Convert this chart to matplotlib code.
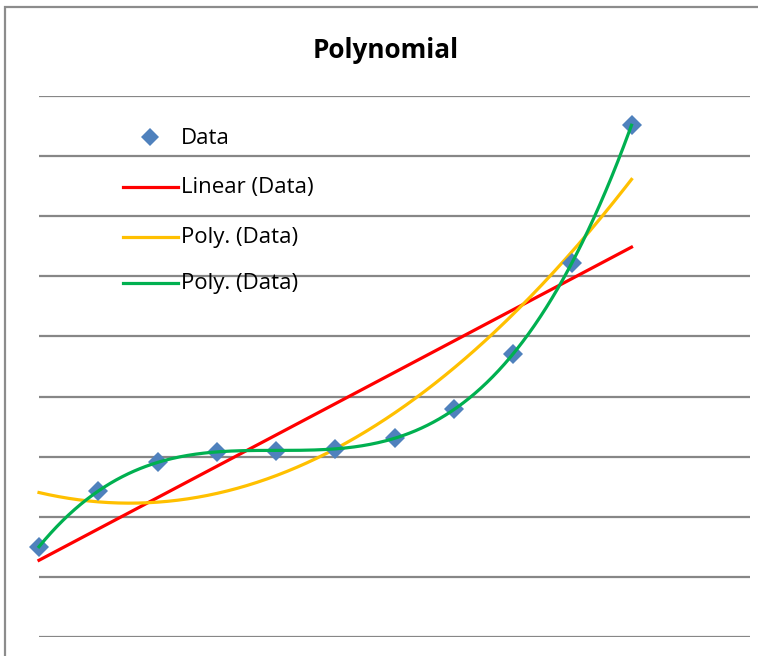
import numpy as np
import matplotlib
matplotlib.use("Agg")
import matplotlib.pyplot as plt
from matplotlib.patches import Rectangle
from matplotlib.lines import Line2D

x_vals = [1, 2, 3, 4, 5, 6, 7, 8, 9, 10, 11]
y_vals = [1.50, 2.43, 2.91, 3.08, 3.09, 3.13, 3.31, 3.79, 4.71, 6.22, 8.52]
title = "Polynomial"
labels = ["Data", "Linear (Data)", "Poly. (Data)", "Poly. (Data)"]

W, H = 758, 656
fig = plt.figure(figsize=(W / 100, H / 100), dpi=100)
fig.patch.set_facecolor("white")

def fx(px):
    return px / W

def fy(py):
    return 1 - py / H

# chart border (left/top visible, right and bottom off-canvas)
fig.add_artist(Rectangle((fx(5), -0.05), 2.0, fy(7) + 0.05,
                         transform=fig.transFigure, fill=False,
                         edgecolor="#8c8c8c", linewidth=1.6))

left, right, top, bottom = 39, 750, 96, 637
ax = fig.add_axes([fx(left), fy(bottom), (right - left) / W, (bottom - top) / H])
ax.set_xlim(1, 13)
ax.set_ylim(0, 9)
ax.set_yticks(np.arange(0, 10, 1))
ax.set_xticks([])
ax.tick_params(left=False, labelleft=False, bottom=False, labelbottom=False)
for s in ax.spines.values():
    s.set_visible(False)
ax.grid(axis="y", color="#878787", linewidth=1.6)
ax.set_axisbelow(True)
ax.patch.set_alpha(0)

x = np.array(x_vals, dtype=float)
y = np.array(y_vals, dtype=float)
xs = np.linspace(x.min(), x.max(), 300)

p1 = np.polyfit(x, y, 1)
p2 = np.polyfit(x, y, 2)
p3 = np.polyfit(x, y, 3)

ax.plot(xs, np.polyval(p1, xs), color="#FF0000", linewidth=2.3, clip_on=False, zorder=3)
ax.plot(xs, np.polyval(p2, xs), color="#FFC000", linewidth=2.3, clip_on=False, zorder=3)
ax.plot(x, y, linestyle="none", marker="D", markersize=10, color="#4F81BD",
        markeredgewidth=0, clip_on=False, zorder=4)
ax.plot(xs, np.polyval(p3, xs), color="#00B050", linewidth=2.3, clip_on=False, zorder=5)

fig.text(fx(386), fy(51), title, ha="center", va="center",
         fontsize=18.8, fontweight="bold", family=["Open Sans", "DejaVu Sans"])

# legend (no frame, drawn over gridlines)
font = {"family": ["Open Sans", "DejaVu Sans"], "size": 16}
rows = [137, 187, 237, 283]
styles = [("marker", "#4F81BD"), ("line", "#FF0000"), ("line", "#FFC000"), ("line", "#00B050")]
for lab, ry, (kind, col) in zip(labels, rows, styles):
    if kind == "marker":
        fig.add_artist(Line2D([fx(150)], [fy(ry)], transform=fig.transFigure,
                              linestyle="none", marker="D", markersize=9,
                              color=col, markeredgewidth=0))
    else:
        fig.add_artist(Line2D([fx(123), fx(178)], [fy(ry), fy(ry)],
                              transform=fig.transFigure, color=col, linewidth=2.3))
    fig.text(fx(181), fy(ry + 1), lab, ha="left", va="center", **font)

fig.savefig("out.png", dpi=100, facecolor="white")
